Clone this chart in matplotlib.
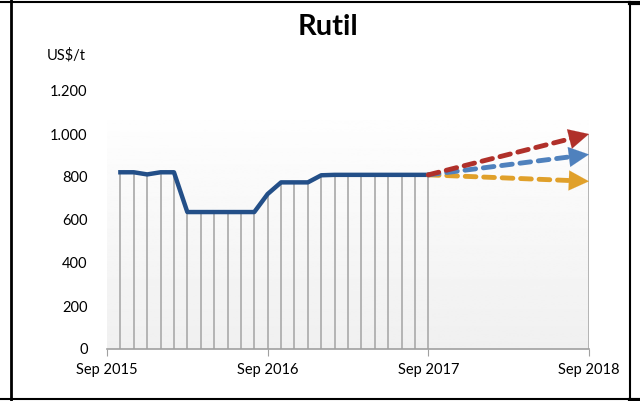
import matplotlib.pyplot as plt
import matplotlib.lines as mlines
import numpy as np

plt.rcParams['font.family'] = ['Lato', 'DejaVu Sans']

# Data (month offsets from Sep 2015)
months = np.arange(1, 25)  # Oct 2015 .. Sep 2017
prices = [822, 822, 812, 822, 822,
          637, 637, 637, 637, 637, 637,
          721, 775, 775, 775, 808,
          810, 810, 810, 810, 810, 810, 810, 810]
forecast_end = 36
forecast_values = {"high": 1000, "mid": 905, "low": 780}
forecast_colors = {"high": "#b0302a", "mid": "#4f81bd", "low": "#e0a02a"}
tick_pos = [0, 12, 24, 36]
tick_labels = ["Sep 2015", "Sep 2016", "Sep 2017", "Sep 2018"]
y_ticks = [0, 200, 400, 600, 800, 1000, 1200]

fig = plt.figure(figsize=(6.4, 4.01), dpi=100)
ax = fig.add_axes([107 / 640, 52 / 401, 482 / 640, 258 / 401])

# gradient background
grad = np.linspace(0.94, 0.995, 200).reshape(-1, 1)
ax.imshow(grad, extent=[0, 36, 0, 1065], origin='lower', cmap='gray',
          vmin=0, vmax=1, aspect='auto', zorder=0)

# drop lines
ax.vlines(months, 0, prices, color='#b4b4b4', lw=1.4, zorder=1)
ax.vlines(forecast_end, 0, forecast_values["high"], color='#b4b4b4', lw=1.4, zorder=1)

ax.plot(months, prices, color='#234f88', lw=3.2, solid_joinstyle='round', zorder=3)

start_x, start_y = months[-1], prices[-1]
for key in ["low", "mid", "high"]:
    end_y = forecast_values[key]
    c = forecast_colors[key]
    frac = 0.93
    mx = start_x + (forecast_end - start_x) * frac
    my = start_y + (end_y - start_y) * frac
    ax.plot([start_x, mx], [start_y, my], color=c, lw=3.5, ls=(0, (2.2, 1.6)),
            dash_capstyle='round', zorder=4)
    ax.annotate('', xy=(forecast_end, end_y), xytext=(mx - 0.3, my - (end_y - start_y) * 0.3 / 12),
                arrowprops=dict(arrowstyle='-|>,head_length=0.9,head_width=0.45',
                                color=c, lw=0.1, shrinkA=0, shrinkB=0, mutation_scale=16),
                zorder=5)

ax.set_xlim(0, 36)
ax.set_ylim(0, 1200)
ax.set_xticks(tick_pos)
ax.set_xticklabels(tick_labels, fontsize=10.5)
ax.set_yticks(y_ticks)
ax.set_yticklabels([f"{v:,}".replace(",", ".") for v in y_ticks], fontsize=10.5)
ax.tick_params(axis='y', length=0, pad=14)
ax.tick_params(axis='x', length=5, color='#a0a0a0', pad=5)
for s in ['top', 'right', 'left']:
    ax.spines[s].set_visible(False)
ax.spines['bottom'].set_color('#a0a0a0')
ax.spines['bottom'].set_linewidth(1.2)

fig.text(328 / 640, 1 - 27 / 401, "Rutil", ha='center', va='center',
         fontsize=21, fontweight='bold')
fig.text(86 / 640, 1 - 55 / 401, "US$/t", ha='right', va='center', fontsize=10.5)

# frame around figure
def fline(x0, y0, x1, y1, lw=1.5):
    fig.add_artist(mlines.Line2D([x0 / 640, x1 / 640], [1 - y0 / 401, 1 - y1 / 401],
                                 color='black', lw=lw, transform=fig.transFigure))

fline(11, 0, 11, 401, lw=2)
fline(0, 1.5, 630, 1.5)
fline(630, 1.5, 630, 399)
fline(0, 399, 630, 399)
fline(630, 2.5, 640, 2.5, lw=3)
fline(630, 400, 640, 400, lw=3)

fig.savefig("out.png", dpi=100)
